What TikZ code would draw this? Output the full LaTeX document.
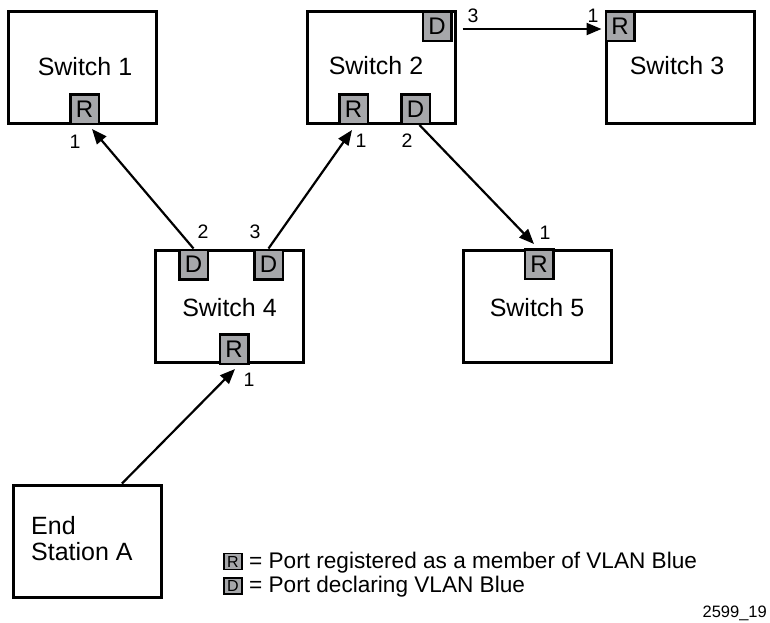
\documentclass[tikz,border=0pt]{standalone}
\usepackage{fontspec}
\setmainfont{Liberation Sans}
\usetikzlibrary{arrows.meta}
\definecolor{portgray}{RGB}{166,167,170}
\begin{document}
\begin{tikzpicture}[x=1pt,y=-1pt,
  swbox/.style={draw=black, line width=3pt, minimum width=148pt, minimum height=112pt, inner sep=0pt},
  swtext/.style={anchor=base, inner sep=0pt, font=\fontsize{25}{30}\selectfont},
  port/.style={draw=black, fill=portgray, line width=2.5pt, minimum width=28.5pt, minimum height=29.5pt, inner sep=0pt, font=\fontsize{24}{28}\selectfont},
  plabel/.style={anchor=base, inner sep=0pt, font=\fontsize{19.5}{22}\selectfont},
  link/.style={line width=2.2pt, -{Triangle[length=15pt,width=12pt]}},
  legbox/.style={draw=black, fill=portgray, line width=1.2pt, minimum width=18pt, minimum height=16pt, inner sep=0pt, font=\fontsize{16}{18}\selectfont},
  legtext/.style={anchor=base west, inner sep=0pt, font=\fontsize{22.6}{26}\selectfont}]
\useasboundingbox (0,0) rectangle (770,622);

% switches and end station
\node[swbox] (sw1) at (82,67.5) {};
\node[swbox] (sw2) at (381,67.5) {};
\node[swbox] (sw3) at (680,67.5) {};
\node[swbox] (sw4) at (229.5,306.5) {};
\node[swbox] (sw5) at (537.5,306.5) {};
\node[swbox] (es) at (87,541) {};

\node[swtext] (sw1t) at (85,75) {Switch 1};
\node[swtext] (sw2t) at (376,74) {Switch 2};
\node[swtext] (sw3t) at (677,74) {Switch 3};
\node[swtext] (sw4t) at (229.5,316) {Switch 4};
\node[swtext] (sw5t) at (537,316) {Switch 5};
\node[swtext, anchor=base west] (es1) at (31,534) {End};
\node[swtext, anchor=base west] (es2) at (31,560) {Station A};

% ports
\node[port] (r1) at (84.5,109) {R};
\node[port] (d2t) at (437,26) {D};
\node[port] (r2) at (353.5,109) {R};
\node[port] (d2b) at (415.5,109) {D};
\node[port] (r3) at (620,26) {R};
\node[port] (d41) at (193.5,264.5) {D};
\node[port] (d42) at (268.5,264.5) {D};
\node[port] (r4) at (234,349) {R};
\node[port] (r5) at (539,264) {R};

% port numbers
\node[plabel] (n11) at (75,148) {1};
\node[plabel] (n21) at (361,147) {1};
\node[plabel] (n22) at (407,147) {2};
\node[plabel] (n23) at (473,22) {3};
\node[plabel] (n31) at (593,22) {1};
\node[plabel] (n42) at (203,238) {2};
\node[plabel] (n43) at (255,238) {3};
\node[plabel] (n41) at (249,386) {1};
\node[plabel] (n51) at (545,239) {1};

% links
\draw[link] (d41.north) -- ([xshift=7.5pt,yshift=-4pt]r1.south);
\draw[link] (d42.north) -- ([xshift=-1.5pt,yshift=-5pt]r2.south);
\draw[link] ([xshift=4pt]d2b.south) -- ([xshift=-5pt,yshift=4pt]r5.north);
\draw[link] ([xshift=10pt,yshift=-3pt]d2t.east) -- ([xshift=-3pt,yshift=-3pt]r3.west);
\draw[link] ([xshift=35pt]es.north) -- ([xshift=1pt,yshift=-4pt]r4.south);

% legend
\node[legbox] (lr) at (233,561.5) {R};
\node[legtext] (lrt) at (249,568) {= Port registered as a member of VLAN Blue};
\node[legbox] (ld) at (233,586) {D};
\node[legtext] (ldt) at (249,592) {= Port declaring VLAN Blue};
\node[anchor=base east, inner sep=0pt, font=\fontsize{16.5}{18}\selectfont] (fig) at (767,617) {2599\_19};
\end{tikzpicture}
\end{document}
